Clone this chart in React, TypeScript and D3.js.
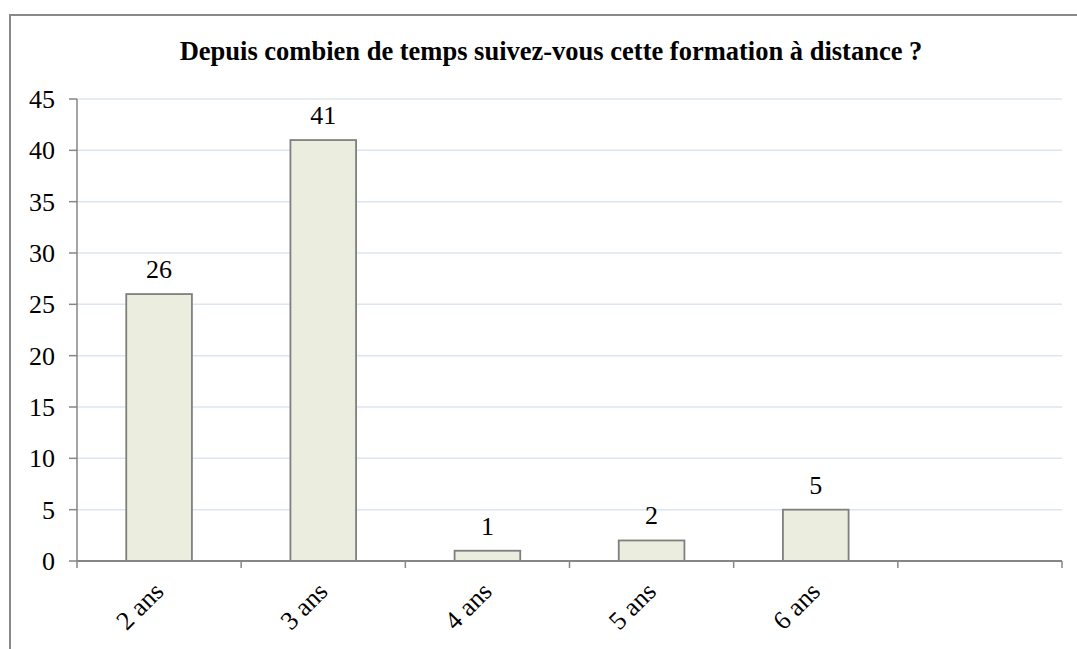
import React from "react";
import * as d3 from "d3";

const title = "Depuis combien de temps suivez-vous cette formation à distance ?";
const categories = ["2 ans", "3 ans", "4 ans", "5 ans", "6 ans", ""];
const values: (number | null)[] = [26, 41, 1, 2, 5, null];
const yTicks = [0, 5, 10, 15, 20, 25, 30, 35, 40, 45];

const W = 1077;
const H = 649;
const left = 77;
const right = 1062;
const top = 99;
const bottom = 561;
const FONT = "'Liberation Serif', 'Times New Roman', serif";

export default function App() {
  const x = d3.scaleBand<string>().domain(categories).range([left, right]).paddingInner(0.6).paddingOuter(0.3);
  const y = d3.scaleLinear().domain([0, 45]).range([bottom, top]);
  const step = x.step();
  const boundaries = categories.map((c) => (x(c) as number) - step * 0.3);
  boundaries.push(boundaries[boundaries.length - 1] + step);

  return (
    <svg width={W} height={H} style={{ position: "absolute", left: 0, top: 0, display: "block" }} fontFamily={FONT}>
      <rect x={0} y={0} width={W} height={H} fill="#fff" />
      <rect x={10} y={15} width={W + 40} height={H + 40} fill="none" stroke="#898989" strokeWidth={2} />
      <text x={551} y={60} textAnchor="middle" fontWeight="bold" fontSize={26.5} fill="#000">
        {title}
      </text>
      {yTicks.map((t) => (
        <g key={t}>
          {t > 0 && <line x1={left} x2={right} y1={y(t)} y2={y(t)} stroke="#DCE6F2" strokeWidth={1.5} />}
          <line x1={left - 8} x2={left} y1={y(t)} y2={y(t)} stroke="#868686" strokeWidth={1.5} />
          <text x={55} y={y(t)} dy="0.35em" textAnchor="end" fontSize={26} fill="#000">
            {t}
          </text>
        </g>
      ))}
      {categories.map((c, i) => {
        const v = values[i];
        if (v == null) return null;
        const bx = x(c) as number;
        return (
          <g key={c}>
            <rect x={bx} y={y(v)} width={x.bandwidth()} height={bottom - y(v)} fill="#EBEDDE" stroke="#7F7F7F" strokeWidth={1.8} />
            <text x={bx + x.bandwidth() / 2} y={y(v) - 16} textAnchor="middle" fontSize={26} fill="#000">
              {v}
            </text>
          </g>
        );
      })}
      <line x1={left} x2={left} y1={top} y2={bottom} stroke="#868686" strokeWidth={1.5} />
      <line x1={left} x2={right} y1={bottom} y2={bottom} stroke="#868686" strokeWidth={1.8} />
      {boundaries.map((bx, i) => (
        <line key={i} x1={bx} x2={bx} y1={bottom} y2={bottom + 7} stroke="#868686" strokeWidth={1.5} />
      ))}
      {categories.map((c) =>
        c ? (
          <text
            key={c}
            transform={`translate(${(x(c) as number) + x.bandwidth() / 2 + 6},${593}) rotate(-45)`}
            textAnchor="end"
            fontSize={26}
            fill="#000"
          >
            {c}
          </text>
        ) : null
      )}
    </svg>
  );
}
